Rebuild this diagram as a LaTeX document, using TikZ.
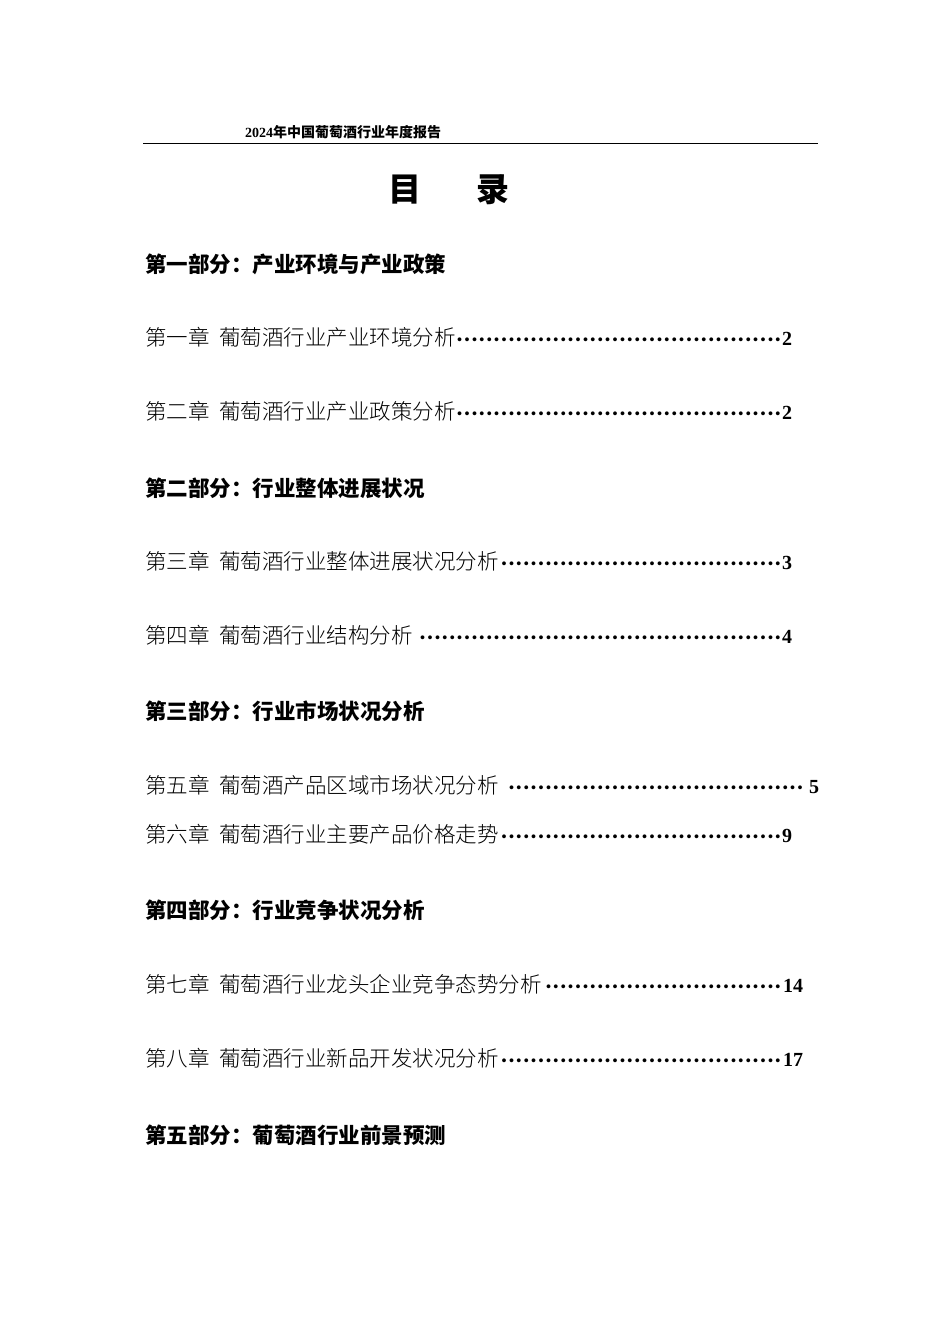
\documentclass[tikz,border=0pt]{standalone}
\usepackage{fontspec}
\setmainfont{Liberation Serif}
\newfontfamily\cjk{Noto Sans CJK SC}
\newfontfamily\cjkl{Noto Sans CJK SC Light}
\newcommand{\dotlead}{\leaders\hbox to 7.4pt{\hss\fontsize{15}{15}\selectfont\bfseries·\hss}\hfill}
\tikzset{
  head/.style={anchor=west,inner sep=0pt,font=\cjk\bfseries\fontsize{21.5}{21}\selectfont},
  chap/.style={anchor=west,inner sep=0pt,font=\cjkl\fontsize{21.5}{21}\selectfont}
}
\newcommand{\chline}[3]{\makebox[#1pt][l]{#2\dotlead{\rmfamily\bfseries\fontsize{20}{20}\selectfont #3}}}
\begin{document}
\begin{tikzpicture}[x=1pt,y=-1pt]
\useasboundingbox[fill=white] (0,0) rectangle (950,1344);
\node[anchor=west,inner sep=0pt,font=\cjk\bfseries\fontsize{14}{14}\selectfont] (hdr) at (245,132) {{\rmfamily 2024}年中国葡萄酒行业年度报告};
\draw[line width=1.5pt] (143,143.5) -- (818,143.5);
\node[inner sep=0pt,font=\cjk\bfseries\fontsize{33}{33}\selectfont] (t1) at (405,190) {目};
\node[inner sep=0pt,font=\cjk\bfseries\fontsize{33}{33}\selectfont] (t2) at (493,190) {录};
\node[head] (p1) at (145,264) {第一部分：产业环境与产业政策};
\node[chap] (c1) at (145,337) {\chline{647}{第一章\ \ 葡萄酒行业产业环境分析}{2}};
\node[chap] (c2) at (145,411) {\chline{647}{第二章\ \ 葡萄酒行业产业政策分析}{2}};
\node[head] (p2) at (145,488) {第二部分：行业整体进展状况};
\node[chap] (c3) at (145,561) {\chline{647}{第三章\ \ 葡萄酒行业整体进展状况分析}{3}};
\node[chap] (c4) at (145,635) {\chline{647}{第四章\ \ 葡萄酒行业结构分析}{4}};
\node[head] (p3) at (145,711) {第三部分：行业市场状况分析};
\node[chap] (c5) at (145,785) {\chline{674}{第五章\ \ 葡萄酒产品区域市场状况分析\ }{5}};
\node[chap] (c6) at (145,834) {\chline{647}{第六章\ \ 葡萄酒行业主要产品价格走势}{9}};
\node[head] (p4) at (145,910) {第四部分：行业竞争状况分析};
\node[chap] (c7) at (145,984) {\chline{658}{第七章\ \ 葡萄酒行业龙头企业竞争态势分析}{14}};
\node[chap] (c8) at (145,1058) {\chline{658}{第八章\ \ 葡萄酒行业新品开发状况分析}{17}};
\node[head] (p5) at (145,1135) {第五部分：葡萄酒行业前景预测};
\end{tikzpicture}
\end{document}
